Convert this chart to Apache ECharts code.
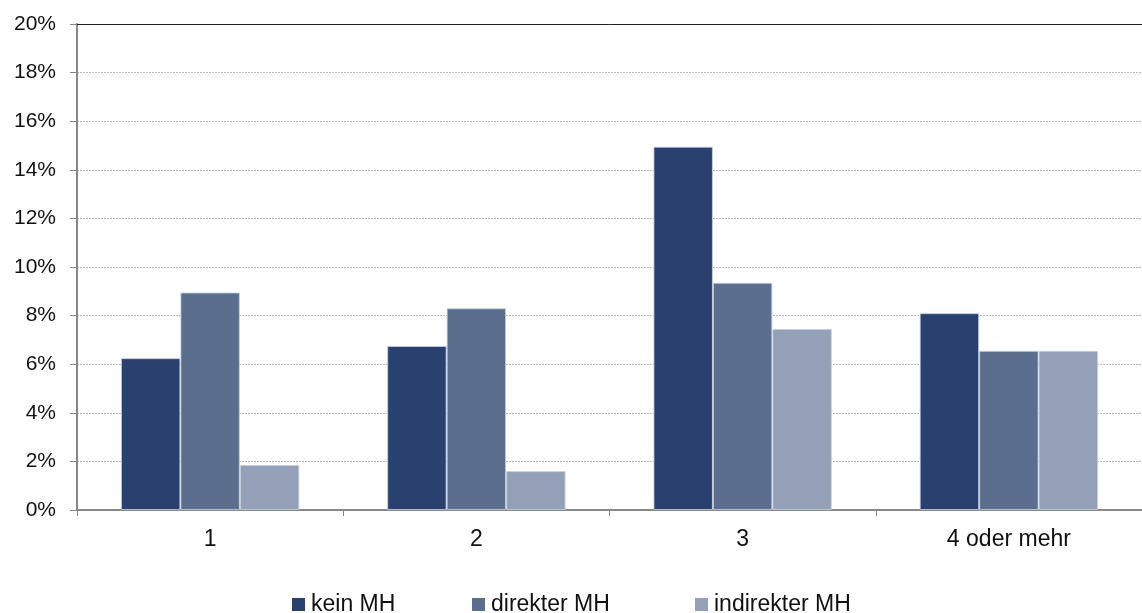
<!DOCTYPE html>
<html><head><meta charset="utf-8">
<script src="https://cdn.jsdelivr.net/npm/echarts@6/dist/echarts.min.js"></script>
<style>html,body{margin:0;padding:0;background:#fff}#c{width:1142px;height:613px}</style>
</head><body><div id="c"></div>
<script>
const categories = ['1', '2', '3', '4 oder mehr'];
const seriesNames = ['kein MH', 'direkter MH', 'indirekter MH'];
const keinMH = [6.25, 6.75, 14.95, 8.1];
const direkterMH = [8.95, 8.3, 9.35, 6.55];
const indirekterMH = [1.85, 1.6, 7.45, 6.55];
const colors = ['#2A406F', '#5B6E8E', '#94A0B7'];
const legendLefts = [292, 472, 695];
const font = 'Liberation Sans';

const chart = echarts.init(document.getElementById('c'));
const mk = (name, data, color) => ({
  name, type: 'bar', data, barGap: '0%', barCategoryGap: '33%',
  itemStyle: { color, borderColor: 'rgba(200,208,224,0.8)', borderWidth: 1 },
  emphasis: { disabled: true }
});
chart.setOption({
  animation: false,
  textStyle: { fontFamily: font },
  grid: { left: 77, right: 0, top: 24, bottom: 103 },
  legend: seriesNames.map((n, i) => ({
    left: legendLefts[i], top: 593, padding: 0, itemWidth: 13, itemHeight: 13,
    icon: 'rect', itemStyle: { borderWidth: 0 },
    textStyle: { fontFamily: font, fontSize: 23, color: '#111', padding: [0, 0, 0, 1] },
    data: [n]
  })),
  xAxis: [{
    type: 'category', data: categories, position: 'bottom',
    axisLine: { lineStyle: { color: '#888', width: 2 } },
    axisTick: { show: true, length: 6, lineStyle: { color: '#888' } },
    axisLabel: { fontFamily: font, fontSize: 23, color: '#111', margin: 18 }
  }, {
    type: 'category', data: categories, position: 'top',
    axisLine: { lineStyle: { color: '#222', width: 1 } },
    axisTick: { show: false }, axisLabel: { show: false }
  }],
  yAxis: {
    type: 'value', min: 0, max: 20, interval: 2,
    axisLine: { show: true, lineStyle: { color: '#888', width: 2 } },
    axisTick: { show: true, length: 7, lineStyle: { color: '#888' } },
    axisLabel: { fontFamily: font, fontSize: 21, color: '#111', margin: 21, formatter: v => v + '%' },
    splitLine: { lineStyle: { color: '#bbb', type: [2, 1], width: 1 } }
  },
  series: [
    mk(seriesNames[0], keinMH, colors[0]),
    mk(seriesNames[1], direkterMH, colors[1]),
    mk(seriesNames[2], indirekterMH, colors[2])
  ]
});
</script></body></html>
